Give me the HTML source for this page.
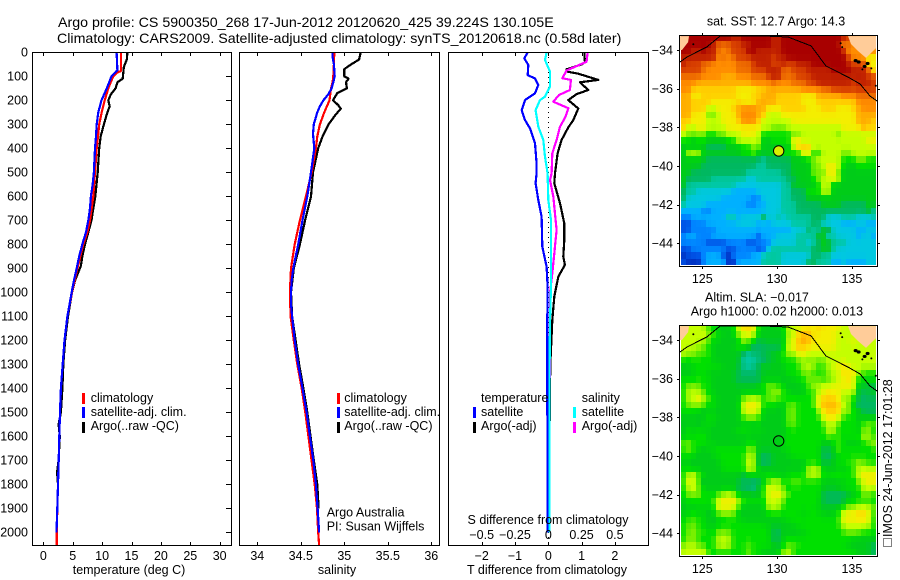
<!DOCTYPE html>
<html lang="en">
<head>
<meta charset="utf-8">
<title>Argo profile 5900350_268</title>
<style>
html,body{margin:0;padding:0;background:#fff;}
svg{display:block;}
text{font-family:"Liberation Sans",sans-serif;font-size:12.5px;fill:#000;}
.ttl{font-size:14.22px;}
</style>
</head>
<body>
<svg id="chart" xmlns="http://www.w3.org/2000/svg" width="900" height="580" viewBox="0 0 900 580">
<rect x="0" y="0" width="900" height="580" fill="#fff"/>
<text class="ttl" x="58" y="27">Argo profile: CS 5900350_268 17-Jun-2012 20120620_425 39.224S 130.105E</text>
<text class="ttl" x="57" y="43">Climatology: CARS2009. Satellite-adjusted climatology: synTS_20120618.nc (0.58d later)</text>
<g id="heat1" shape-rendering="crispEdges"></g>
<g id="heat2" shape-rendering="crispEdges"></g>
<g id="marks"></g>
<g id="axes" shape-rendering="crispEdges"></g>
<g id="labels"></g>
<text x="129" y="574" text-anchor="middle">temperature (deg C)</text>
<text x="337" y="574" text-anchor="middle">salinity</text>
<text x="547" y="574" text-anchor="middle">T difference from climatology</text>
<text x="548" y="524" text-anchor="middle">S difference from climatology</text>
<g>
<rect x="82" y="393" width="3" height="11" fill="#ff0000"/>
<rect x="82" y="407" width="3" height="11" fill="#0000ff"/>
<rect x="82" y="422" width="3" height="11" fill="#000"/>
<text x="90.7" y="402">climatology</text>
<text x="90.7" y="416">satellite-adj. clim.</text>
<text x="90.7" y="430">Argo(..raw -QC)</text>
</g>
<g>
<rect x="337" y="393" width="3" height="11" fill="#ff0000"/>
<rect x="337" y="407" width="3" height="11" fill="#0000ff"/>
<rect x="337" y="422" width="3" height="11" fill="#000"/>
<text x="344.3" y="402">climatology</text>
<text x="344.3" y="416">satellite-adj. clim.</text>
<text x="344.3" y="430">Argo(..raw -QC)</text>
<text x="326.7" y="516.7">Argo Australia</text>
<text x="326.7" y="530.7">PI: Susan Wijffels</text>
</g>
<g>
<text x="481" y="402">temperature</text>
<rect x="473" y="407" width="3" height="11" fill="#0000ff"/>
<rect x="473" y="422" width="3" height="11" fill="#000"/>
<text x="481" y="416">satellite</text>
<text x="481" y="430">Argo(-adj)</text>
<text x="581.7" y="402">salinity</text>
<rect x="573" y="407" width="3" height="11" fill="#00ffff"/>
<rect x="573" y="422" width="3" height="11" fill="#ff00ff"/>
<text x="581.7" y="416">satellite</text>
<text x="581.7" y="430">Argo(-adj)</text>
</g>
<text x="776" y="25.7" text-anchor="middle">sat. SST: 12.7 Argo: 14.3</text>
<text x="705" y="301.7">Altim. SLA: −0.017</text>
<text x="690.7" y="315.7">Argo h1000: 0.02 h2000: 0.013</text>
<rect x="883.5" y="538.5" width="8" height="8" fill="none" stroke="#000" stroke-width="1" stroke-dasharray="1 1" shape-rendering="crispEdges"/>
<text transform="translate(892,537) rotate(-90)">IMOS 24-Jun-2012 17:01:28</text>
</svg>
<script>
// ---- profile data ----
const tempArgoDepth=[0,30,60,110,125,150,175,200,225,250,300,350,400,500,600,650,700,750,800,850,890,950,1000,1100,1200,1300,1400,1500,1550,1600,1700,1750,1800];
const tempArgo=[14.3,14.2,13.7,13.5,12.6,12.3,11.5,11.06,11.3,10.9,10.3,9.76,9.5,9.25,8.85,8.5,8.2,7.65,7.1,6.64,6.4,5.4,4.88,4.2,3.7,3.4,3.25,3.0,2.6,2.8,2.6,2.35,2.5];
const tempClimDepth=[0,78,85,100,125,150,200,250,300,350,400,500,600,700,750,800,900,1000,1100,1200,1300,1400,1500,1600,1700,1800,1900,2000,2053];
const tempClim=[13.2,13.2,12.5,11.9,11.46,11.06,10.44,9.93,9.5,9.3,9.08,8.8,8.5,7.94,7.5,6.8,5.8,4.88,4.1,3.6,3.3,3.0,2.84,2.72,2.62,2.5,2.38,2.3,2.3];
const tempSatDepth=[0,74,85,100,150,200,250,300,350,400,500,550,600,650,700,750,800,850,900,950,1000,1100,1200,1300,1400,1500,1600,1700,1800,1900,2000];
const tempSat=[12.47,12.6,12.2,11.6,10.8,9.9,9.35,9.08,8.96,8.8,8.6,8.4,8.1,7.94,7.65,7.26,6.64,6.1,5.68,5.22,4.83,4.1,3.6,3.3,3.0,2.84,2.72,2.62,2.5,2.38,2.25];

const salArgoDepth=[0,30,50,70,100,110,125,150,170,200,220,235,260,300,350,400,500,600,700,800,900,1000,1100,1200,1300,1400,1500,1700,1800,1900];
const salArgo=[35.188,35.17,35.08,35,35,35.05,35.02,35.03,34.92,34.87,34.93,34.96,34.9,34.82,34.75,34.7,34.64,34.617,34.55,34.49,34.42,34.387,34.4,34.44,34.48,34.53,34.575,34.65,34.69,34.705];
const salClimDepth=[0,50,100,125,150,200,225,250,300,350,400,500,600,700,800,900,1000,1100,1200,1300,1400,1500,1800,1900,2000,2053];
const salClim=[34.885,34.88,34.874,34.866,34.847,34.83,34.8,34.77,34.72,34.69,34.674,34.625,34.56,34.49,34.43,34.387,34.375,34.383,34.42,34.46,34.51,34.552,34.66,34.686,34.7,34.71];
const salSatDepth=[0,20,50,100,125,150,175,200,225,250,300,340,400,500,600,700,800,900,950,1000,1050,1100,1200,1300,1400,1500,1600,1700,1800,1900,2000];
const salSat=[34.866,34.866,34.88,34.89,34.874,34.854,34.816,34.76,34.72,34.69,34.65,34.64,34.655,34.617,34.575,34.52,34.47,34.414,34.395,34.387,34.387,34.4,34.43,34.47,34.52,34.567,34.605,34.644,34.674,34.693,34.71];

const diffTArgoDepth=[0,40,49,71,81,89,115,125,157,174,199,234,282,313,365,421,504,546,629,713,782,851,886,935,1018,1116,1300,1400,1800];
const diffTArgo=[1.08,1.1,1.02,0.55,0.58,0.9,1.5,0.95,1.2,0.85,0.6,0.9,0.75,0.6,0.4,0.28,0.2,0.18,0.35,0.48,0.48,0.45,0.5,0.3,0.18,0.12,0.06,0.05,0.02];
const diffSArgoDepth=[0,39,76,108,115,157,178,206,233,268,310,365,421,504,532,601,740,838,921,1004,1116,1400,1800];
const diffSArgo=[0.295,0.2875,0.1375,0.105,0.17,0.1625,0.08,0.0375,0.15,0.13,0.0875,0.0625,0.03,0.025,0.0125,0.0375,0.0625,0.045,0.03,0.0125,0.0125,0.01,0.01];
const diffTSatDepth=[0,25,53,95,109,136,171,199,241,282,317,379,463,504,546,615,685,810,893,976,1116,1400,2000];
const diffTSat=[-0.62,-0.72,-0.6,-0.62,-0.4,-0.3,-0.4,-0.7,-0.8,-0.7,-0.55,-0.4,-0.35,-0.35,-0.38,-0.3,-0.2,-0.18,-0.05,-0.02,-0.03,-0.03,-0.02];
const diffSSatDepth=[0,32,81,143,185,199,241,310,365,435,504,615,699,851,976,1116,1400,2000];
const diffSSat=[-0.0125,-0.025,0.0125,0.0125,-0.025,-0.0625,-0.095,-0.075,-0.0375,-0.025,-0.005,0,0.02,0.02,0.02,0.0125,0.0085,0.0085];

// ---- tick labels ----
const depthTicks=[0,100,200,300,400,500,600,700,800,900,1000,1100,1200,1300,1400,1500,1600,1700,1800,1900,2000];
const tempTicks=[0,5,10,15,20,25,30];
const salTicks=[34,34.5,35,35.5,36];
const diffTTicks=[-2,-1,0,1,2];
const diffSTicks=[-0.5,-0.25,0,0.25,0.5];
const lonTicks=[125,130,135];
const latTicks=[-34,-36,-38,-40,-42,-44];

// ---- map data (colour level per cell, north to south) ----
const sstRows=[
[18,18,18,18,18,18,18,18,18,18,17,17,18,18,18,18,18,18,17,17,18,18,18,18,18,18,18,18,18,18,18,18,17,16,15,14,14,14,14],
[18,18,18,18,18,18,17,15,15,15,16,16,17,17,18,18,18,18,17,17,18,18,18,18,18,18,18,18,18,18,18,18,14,15,14,14,14,14,14],
[18,18,17,17,18,17,17,15,14,15,16,16,16,18,18,17,17,17,17,17,18,18,18,18,18,18,18,18,18,18,18,18,17,14,14,14,14,14,14],
[17,17,17,17,17,17,17,14,15,14,15,16,16,16,17,17,17,17,16,17,17,18,18,18,18,18,18,18,18,18,18,18,18,16,14,14,14,11,11],
[17,16,16,16,15,15,14,14,14,14,14,15,15,15,16,17,17,17,16,16,17,16,16,17,17,17,18,18,18,18,18,18,18,17,16,16,16,11,11],
[16,16,16,16,15,14,14,14,14,14,14,15,15,15,16,16,16,17,17,17,15,15,16,16,16,17,17,17,17,17,18,18,18,18,17,17,17,16,11],
[15,15,15,15,14,14,14,14,13,13,13,14,14,14,15,15,15,16,17,17,15,15,15,16,16,16,17,17,17,17,17,17,17,17,17,17,17,16,16],
[14,14,14,13,13,13,13,13,13,13,13,13,13,13,14,14,14,14,15,14,14,14,15,15,15,16,16,17,17,17,17,17,17,17,16,17,17,17,16],
[14,14,12,12,12,12,12,12,12,12,12,11,11,11,11,12,12,13,13,13,13,13,13,13,14,14,14,14,15,15,16,16,16,16,16,16,16,16,16],
[13,13,11,11,12,12,12,12,12,12,12,11,11,11,12,12,13,13,13,12,12,12,12,12,11,11,11,13,13,13,13,13,14,14,14,15,15,15,15],
[13,13,12,12,12,12,11,11,11,11,11,12,11,11,11,13,13,13,13,12,12,12,12,12,11,11,11,12,12,12,12,12,12,12,12,14,14,14,14],
[13,13,12,12,12,10,10,11,11,11,12,13,14,14,14,13,13,11,11,11,12,12,12,12,12,11,11,11,12,12,12,11,11,11,12,13,14,14,14],
[13,13,11,11,11,9,9,10,11,11,11,13,14,14,14,13,12,10,10,10,11,11,11,11,11,11,11,11,11,11,11,11,11,11,11,13,13,13,13],
[12,12,11,11,11,10,10,10,11,11,11,12,14,14,14,12,10,10,10,10,10,10,11,11,11,11,11,11,11,11,11,11,11,11,11,13,13,13,12],
[12,10,10,11,11,10,10,10,10,11,11,11,11,11,11,11,10,10,9,9,9,10,10,10,10,10,10,10,10,10,10,10,11,11,11,11,13,12,12],
[10,9,9,9,9,8,8,9,9,10,10,10,11,11,11,10,8,8,8,8,8,8,9,9,10,10,10,10,10,10,10,9,10,10,10,10,10,10,10],
[8,8,7,8,8,7,7,7,7,8,8,10,10,10,10,10,7,7,8,8,8,8,11,11,10,10,10,10,10,10,10,10,10,10,10,10,10,11,11],
[7,7,7,7,7,6,6,6,6,7,7,7,8,8,9,9,7,7,7,7,7,7,10,12,12,12,10,10,10,10,10,10,10,10,10,10,10,10,10],
[7,10,10,10,7,7,7,7,7,7,7,7,8,8,9,7,7,7,7,7,8,8,8,8,11,11,8,8,10,10,10,10,9,9,10,10,10,10,10],
[7,7,7,7,7,6,6,6,6,6,6,6,6,6,6,6,5,6,6,6,6,6,7,7,7,8,9,10,10,10,10,10,8,8,8,9,9,8,8],
[7,7,7,7,6,6,6,6,6,6,6,6,6,6,6,5,5,6,6,6,6,6,7,7,7,7,9,9,10,11,11,10,8,7,7,8,8,8,8],
[7,7,6,6,6,6,6,6,6,6,6,6,6,5,5,5,5,5,5,5,6,6,7,7,7,7,9,9,9,11,11,9,7,7,7,7,7,7,7],
[7,6,6,6,6,6,5,5,5,5,5,5,5,4,4,5,5,5,5,5,5,6,6,7,7,7,8,9,10,10,11,10,7,7,7,7,7,7,7],
[7,5,5,5,5,5,5,5,5,5,5,4,4,4,4,4,4,4,4,4,5,5,7,7,7,7,7,8,10,10,7,7,7,7,7,7,7,7,7],
[6,5,5,4,4,4,4,4,4,4,3,3,3,3,3,4,4,4,4,4,5,5,6,6,6,8,8,8,10,10,7,7,7,7,7,7,7,7,7],
[6,4,4,4,4,4,4,4,3,3,3,3,3,3,2,2,4,4,4,4,5,5,6,6,6,7,7,7,7,7,7,7,7,7,7,7,7,7,7],
[5,4,4,4,4,3,3,3,3,3,3,3,3,2,2,3,3,4,4,4,5,5,5,6,6,6,6,6,7,7,7,7,6,6,6,6,6,7,7],
[3,3,3,3,2,2,3,3,3,3,3,3,3,3,3,3,3,4,4,4,5,5,5,6,6,6,6,6,6,6,6,6,6,6,6,6,6,7,5],
[2,2,3,3,3,3,3,3,3,5,5,3,4,4,4,4,7,4,4,5,4,5,5,5,5,5,6,6,6,4,4,4,5,5,5,4,4,4,5],
[1,1,2,2,2,3,3,3,3,3,3,4,4,4,4,3,3,3,4,4,4,4,5,5,5,5,6,6,4,4,4,4,3,3,3,4,4,3,3],
[1,1,2,2,2,2,2,3,3,3,3,3,3,3,3,3,3,3,3,3,3,3,4,4,4,6,5,5,7,7,4,4,4,4,4,3,3,4,4],
[2,3,3,2,2,2,3,3,3,3,3,3,3,3,3,1,3,3,3,4,4,4,4,5,5,5,5,7,7,4,5,4,4,4,4,3,4,4,3],
[2,2,2,2,2,1,1,1,1,2,2,2,2,1,1,2,2,2,4,4,4,4,4,5,5,4,5,6,7,7,5,5,5,4,4,4,4,4,4],
[1,1,2,2,2,2,2,2,2,1,1,2,2,2,2,1,1,4,5,5,5,5,5,5,5,5,6,6,7,7,5,4,4,4,4,4,4,4,4],
[0,1,1,1,2,3,3,3,1,0,2,2,2,2,3,3,5,5,5,5,4,4,4,4,4,4,6,6,5,5,4,4,4,4,4,4,4,4,4],
[1,0,0,0,2,3,3,3,3,0,0,3,3,3,3,3,5,5,5,5,4,4,4,4,4,6,6,5,5,5,3,3,4,3,3,3,3,4,4]
];
const slaRows=[
[10,10,10,10,10,8,8,7,7,7,8,10,12,12,11,8,7,7,7,7,8,10,10,10,11,11,11,12,11,11,11,11,10,10,10,10,10,10,10],
[10,10,10,10,10,10,8,8,7,7,7,10,10,10,11,7,7,7,7,7,7,10,10,12,13,13,11,11,11,11,11,10,10,10,10,10,10,10,10],
[10,10,10,10,10,8,8,7,7,7,7,7,9,10,7,6,7,7,7,7,7,10,10,13,13,13,11,11,11,11,11,10,10,10,11,10,10,10,10],
[10,10,10,9,9,8,7,7,7,7,7,8,9,6,6,6,6,6,6,6,7,11,11,12,12,11,11,11,11,11,11,10,10,10,10,10,10,10,10],
[10,9,9,9,8,9,7,7,7,7,7,7,5,5,6,6,6,7,7,7,9,9,9,11,11,10,10,10,10,10,10,10,10,10,10,10,10,10,10],
[8,8,8,8,8,8,7,7,7,7,7,7,5,5,5,5,6,6,7,7,8,8,8,9,9,9,9,9,9,10,10,10,10,10,10,10,10,10,10],
[7,7,8,8,8,8,8,8,7,7,7,7,5,5,5,7,7,7,7,7,7,8,8,8,10,10,10,8,8,10,10,11,12,10,10,10,10,10,10],
[7,7,7,8,8,7,7,7,7,7,7,6,6,6,6,6,7,7,7,7,7,8,8,8,9,9,8,8,9,9,10,10,11,12,11,10,8,8,8],
[8,8,8,8,8,8,7,7,7,7,7,6,6,6,6,6,7,7,7,7,7,7,7,8,8,9,9,9,8,8,10,10,11,11,11,7,8,8,8],
[8,9,9,9,8,8,7,7,7,7,7,7,7,7,7,7,9,9,9,9,7,7,7,7,7,9,9,10,10,11,10,11,11,11,11,7,7,6,6],
[8,10,10,10,8,8,7,7,7,7,7,7,7,7,7,7,7,9,9,9,9,7,7,7,7,8,9,9,11,11,11,11,10,10,10,6,6,7,7],
[8,10,10,11,11,8,8,7,7,7,7,7,9,10,10,10,8,9,9,9,8,8,8,8,8,8,8,11,12,12,12,11,9,9,9,6,6,6,6],
[8,9,9,10,8,8,8,7,7,7,7,7,11,11,11,11,8,8,8,7,7,9,9,8,8,8,8,12,12,13,13,12,10,10,6,6,6,6,6],
[8,8,8,7,7,7,7,7,7,7,7,7,10,11,11,10,7,7,7,7,7,9,9,8,8,8,8,8,12,12,12,12,9,9,9,7,6,6,6],
[7,7,7,7,7,8,8,7,7,7,7,7,9,9,9,9,7,7,7,7,7,9,9,8,8,8,8,8,11,11,11,11,8,8,8,7,7,7,7],
[7,7,7,7,7,8,7,7,7,7,7,7,7,7,7,7,7,7,7,7,7,9,9,8,8,8,8,8,8,10,10,8,8,8,8,7,9,9,9],
[7,8,8,7,8,7,7,7,7,7,7,8,8,8,7,8,7,7,7,7,7,8,8,8,8,8,8,8,8,10,10,8,8,8,8,7,9,9,8],
[7,8,7,9,8,7,7,7,7,7,7,7,7,7,7,7,7,7,7,7,7,8,8,8,8,8,8,8,8,9,8,8,8,8,8,8,10,10,8],
[9,9,8,8,8,8,7,7,7,7,7,7,7,8,8,7,7,7,7,7,8,8,8,8,8,8,8,8,7,7,7,10,7,7,7,7,8,8,10],
[8,9,9,7,7,7,8,8,8,8,8,8,8,9,9,7,7,7,7,7,7,8,8,8,8,8,8,8,6,6,8,8,8,8,8,8,8,8,8],
[8,8,7,7,7,7,7,8,8,8,8,8,8,10,10,6,6,6,7,7,7,7,8,8,8,8,8,8,6,6,6,8,8,8,8,8,8,8,8],
[7,7,7,7,7,7,7,7,8,8,8,8,8,10,10,6,6,6,7,7,7,7,7,7,7,8,8,8,6,7,7,8,8,8,9,9,9,8,8],
[8,8,7,7,7,7,7,7,8,8,8,8,8,11,10,7,7,7,7,7,7,7,7,7,7,10,10,10,7,7,7,7,7,8,8,10,10,10,10],
[8,10,10,10,7,7,7,7,7,7,7,7,6,7,7,8,8,8,7,7,7,8,8,8,8,10,10,10,8,8,8,9,8,8,8,11,11,11,11],
[8,11,11,7,7,7,7,7,7,7,7,7,6,6,6,6,6,9,10,10,8,8,9,9,8,8,8,8,7,7,7,7,7,8,8,8,11,11,11],
[8,10,10,10,7,7,7,7,7,7,7,6,6,6,5,6,10,10,10,10,8,8,8,8,8,8,8,8,7,7,7,7,8,8,8,8,10,10,10],
[8,9,9,9,8,8,8,8,10,10,10,7,7,7,7,7,7,11,11,11,11,8,8,8,8,8,8,8,6,6,6,6,6,6,7,8,9,9,8],
[7,8,8,8,8,8,8,11,11,11,11,11,8,8,8,8,8,10,10,10,8,8,8,8,8,8,8,8,6,6,6,6,6,8,8,8,8,8,8],
[7,7,7,7,8,7,8,11,11,11,11,8,7,7,7,7,7,10,10,10,8,8,8,8,8,8,8,7,7,7,7,7,8,9,9,10,10,10,9],
[7,8,8,8,7,7,7,9,9,9,9,7,7,7,7,7,7,8,8,8,8,8,8,8,7,8,8,8,7,7,7,8,11,11,11,12,12,11,8],
[8,8,9,8,8,7,7,7,8,8,8,8,7,7,7,7,7,7,7,7,7,8,8,8,8,8,8,8,8,8,8,8,11,11,11,11,11,11,8],
[8,9,9,8,8,7,7,8,8,8,8,8,8,8,8,8,8,7,7,7,7,7,7,8,8,8,8,8,8,8,8,8,10,10,10,10,10,10,8],
[8,9,9,9,8,8,8,9,9,9,8,8,8,8,8,8,8,8,6,6,7,7,7,7,7,8,8,8,8,8,8,8,8,9,9,9,8,8,8],
[8,9,9,8,8,8,8,10,10,10,8,8,8,8,8,8,8,8,6,6,8,8,8,8,8,8,8,8,8,8,8,8,8,8,7,7,7,7,7],
[9,10,10,9,8,8,8,10,10,10,8,8,8,9,8,8,8,8,7,7,7,9,9,8,8,8,8,8,8,8,8,8,8,7,7,7,7,7,6],
[10,10,10,10,11,8,8,8,8,8,8,8,8,9,8,8,7,7,7,7,10,10,8,8,8,8,8,8,8,8,8,8,8,8,8,7,7,7,6]
];
// ---- map geography (degrees) ----
const coastLon=[123.51,123.98,125.31,126.18,129.26,130.73,132.27,133.27,134.74,135.55,136.21,136.68];
const coastLat=[-34.62,-34.36,-33.84,-33.28,-33.28,-33.33,-33.79,-34.83,-35.40,-35.76,-36.38,-36.64];
const landWestLon=[123.51,124.11,124.05,123.64,123.51];
const landWestLat=[-33.28,-33.28,-33.59,-34,-34];
const landEastLon=[134.74,134.94,135.41,135.94,136.61,136.61];
const landEastLat=[-33.28,-33.69,-34.05,-34.41,-33.9,-33.28];
const islandLon=[135.25,135.45,135.85,136.05,134.25,134.35,135.7,136.3,124.4,136.6];
const islandLat=[-34.55,-34.62,-34.85,-34.7,-33.65,-33.85,-35.0,-34.95,-33.7,-35.85];
const floatLon=130.105;
const floatLat=-39.224;

// ---- scales ----
const SVGNS='http://www.w3.org/2000/svg';
const yDepth=function(d){return 52.3+0.24*d;};
const xTemp=function(t){return 43.3+5.88*t;};
const xSal=function(s){return 257.3+87*(s-34);};
const xDiffT=function(t){return 548.3+33.3*t;};
const xDiffS=function(s){return 548.3+133.2*s;};
const xLon=function(l){return 702.3+14.96*(l-125);};
const yLat1=function(l){return 50-19.33*(l+34);};
const yLat2=function(l){return 340-19.33*(l+34);};
const heatColors=['#0030c0','#0050e4','#0084ff','#00b0ff','#00c8e0','#00c8a0','#00b860','#00cc18','#00e000','#78f000','#c4ff00','#f4ee00','#ffd000','#ffae00','#ff8c00','#ee6c00','#d84000','#c02000','#a80000'];

function mk(tag,parent,attrs){
  const e=document.createElementNS(SVGNS,tag);
  for(const k in attrs){e.setAttribute(k,attrs[k]);}
  parent.appendChild(e);
  return e;
}
const marks=document.getElementById('marks');
const axes=document.getElementById('axes');
const labels=document.getElementById('labels');

function drawProfile(name,xs,ds,xf,color,w){
  let p='';
  for(let i=0;i<xs.length;i++){p+=(i?'L':'M')+xf(xs[i]).toFixed(1)+' '+yDepth(ds[i]).toFixed(1);}
  const el=mk('path',marks,{d:p,fill:'none',stroke:color,'stroke-width':w,'stroke-linejoin':'round','shape-rendering':'crispEdges'});
  
  
}
function drawText(name,str,x,y,anchor){
  const el=mk('text',labels,{x:x,y:y,'text-anchor':anchor});
  el.textContent=str;
  
  
}
function tickStr(v){return (v<0?'−':'')+Math.abs(v);}
function tickLine(name,x1,y1,x2,y2){
  const el=mk('line',axes,{x1:x1,y1:y1,x2:x2,y2:y2,stroke:'#000','stroke-width':1});
  
  
}
function frame(name,x0,y0,x1,y1){
  const el=mk('rect',axes,{x:x0,y:y0,width:x1-x0,height:y1-y0,fill:'none',stroke:'#000','stroke-width':1});
  
  
}
function pix(v){return Math.round(v)+0.5;}

// profile panels
drawProfile('temperature-argo-line',tempArgo,tempArgoDepth,xTemp,'#000',2.2);
drawProfile('temperature-climatology-line',tempClim,tempClimDepth,xTemp,'#ff0000',2.2);
drawProfile('temperature-satellite-line',tempSat,tempSatDepth,xTemp,'#0000ff',2.2);
drawProfile('salinity-argo-line',salArgo,salArgoDepth,xSal,'#000',2.2);
drawProfile('salinity-climatology-line',salClim,salClimDepth,xSal,'#ff0000',2.2);
drawProfile('salinity-satellite-line',salSat,salSatDepth,xSal,'#0000ff',2.2);

const zero=mk('line',marks,{x1:548.5,y1:52,x2:548.5,y2:545,stroke:'#000','stroke-width':1,'stroke-dasharray':'1 4','shape-rendering':'crispEdges'});


drawProfile('t-difference-argo-line',diffTArgo,diffTArgoDepth,xDiffT,'#000',2.2);
drawProfile('s-difference-argo-line',diffSArgo,diffSArgoDepth,xDiffS,'#ff00ff',2.2);
drawProfile('t-difference-satellite-line',diffTSat,diffTSatDepth,xDiffT,'#0000ff',2.2);
drawProfile('s-difference-satellite-line',diffSSat,diffSSatDepth,xDiffS,'#00ffff',2.2);

// frames and ticks
frame('temperature-panel-frame',32.5,52.5,231.5,545.5);
frame('salinity-panel-frame',239.5,52.5,439.5,545.5);
frame('difference-panel-frame',448.5,52.5,648.5,545.5);
depthTicks.forEach(function(d){
  const y=pix(yDepth(d));
  tickLine('depth-tick',226,y,231,y);
  drawText('depth-tick-label',String(d),28,yDepth(d)+4.3,'end');
});
tempTicks.forEach(function(t){
  const x=pix(xTemp(t));
  tickLine('temperature-tick-top',x,53,x,56);
  tickLine('temperature-tick-bottom',x,542,x,545);
  drawText('temperature-tick-label',String(t),xTemp(t),560,'middle');
});
salTicks.forEach(function(s){
  const x=pix(xSal(s));
  tickLine('salinity-tick-top',x,53,x,56);
  tickLine('salinity-tick-bottom',x,542,x,545);
  drawText('salinity-tick-label',String(s),xSal(s),560,'middle');
});
diffTTicks.forEach(function(t){
  const x=pix(xDiffT(t));
  tickLine('t-difference-tick-top',x,53,x,56);
  tickLine('t-difference-tick-bottom',x,542,x,545);
  drawText('t-difference-tick-label',tickStr(t),xDiffT(t),560,'middle');
});
diffSTicks.forEach(function(s){
  drawText('s-difference-tick-label',tickStr(s),xDiffS(s),539,'middle');
});

// maps: the source field is a smooth gridded product, so cell colour blends each level with its neighbours
function levelAt(rows,r,c){
  const rr=Math.max(0,Math.min(rows.length-1,r));
  const row=rows[rr];
  return row[Math.max(0,Math.min(row.length-1,c))];
}
function hexRgb(h){return [parseInt(h.substr(1,2),16),parseInt(h.substr(3,2),16),parseInt(h.substr(5,2),16)];}
function colorFor(level){
  const i=Math.max(0,Math.min(heatColors.length-2,Math.floor(level)));
  const f=Math.max(0,Math.min(1,level-i));
  const a=hexRgb(heatColors[i]),b=hexRgb(heatColors[i+1]);
  return 'rgb('+Math.round(a[0]+(b[0]-a[0])*f)+','+Math.round(a[1]+(b[1]-a[1])*f)+','+Math.round(a[2]+(b[2]-a[2])*f)+')';
}
function drawHeat(groupId,rows,top,cellName,centreWeight){
  const g=document.getElementById(groupId);
  const h=230/36;
  rows.forEach(function(row,r){
    const y0=Math.round(top+r*h),y1=Math.round(top+(r+1)*h);
    row.forEach(function(v,c){
      const s=v*centreWeight+levelAt(rows,r-1,c)+levelAt(rows,r+1,c)+levelAt(rows,r,c-1)+levelAt(rows,r,c+1);
      const cell=mk('rect',g,{x:681+5*c,y:y0,width:5,height:y1-y0,fill:colorFor(s/(centreWeight+4))});
      
      
    });
  });
}
function polyPts(lons,lats,yf){
  return lons.map(function(l,i){return xLon(l).toFixed(1)+','+yf(lats[i]).toFixed(1);}).join(' ');
}
function drawMapOverlay(prefix,yf,top,bottom,markerFill){
  [[landWestLon,landWestLat,'west'],[landEastLon,landEastLat,'east']].forEach(function(l){
    const land=mk('polygon',marks,{points:polyPts(l[0],l[1],yf),fill:'#ffcc99'});
    
    
  });
  const coast=mk('polyline',marks,{points:polyPts(coastLon,coastLat,yf),fill:'none',stroke:'#000','stroke-width':1,'shape-rendering':'crispEdges'});
  
  
  islandLon.forEach(function(l,i){
    const big=i<4;
    const is=mk('ellipse',marks,{cx:xLon(l),cy:yf(islandLat[i]),rx:big?2:1,ry:big?1.6:1,fill:'#000'});
    
    
  });
  const dot=mk('circle',marks,{cx:xLon(floatLon),cy:yf(floatLat),r:5.2,fill:markerFill,stroke:'#000','stroke-width':1});
  
  
  frame(prefix+'-map-frame',679.5,top+0.5,877.5,bottom+0.5);
  lonTicks.forEach(function(l){
    const x=pix(xLon(l));
    tickLine(prefix+'-lon-tick-top',x,top-2,x,top);
    tickLine(prefix+'-lon-tick-bottom',x,bottom+1,x,bottom+3);
    drawText(prefix+'-lon-label',String(l),xLon(l),bottom+17,'middle');
  });
  latTicks.forEach(function(l){
    const y=pix(yf(l));
    tickLine(prefix+'-lat-tick-left',677,y,679,y);
    tickLine(prefix+'-lat-tick-right',878,y,880,y);
    drawText(prefix+'-lat-label',tickStr(l),673,yf(l)+4.3,'end');
  });
}
drawHeat('heat1',sstRows,35,'sst-cell',6);
drawHeat('heat2',slaRows,325,'sla-cell',2);
drawMapOverlay('sst',yLat1,35,266,'#d8f000');
drawMapOverlay('sla',yLat2,325,556,'none');
</script>
</body>
</html>
